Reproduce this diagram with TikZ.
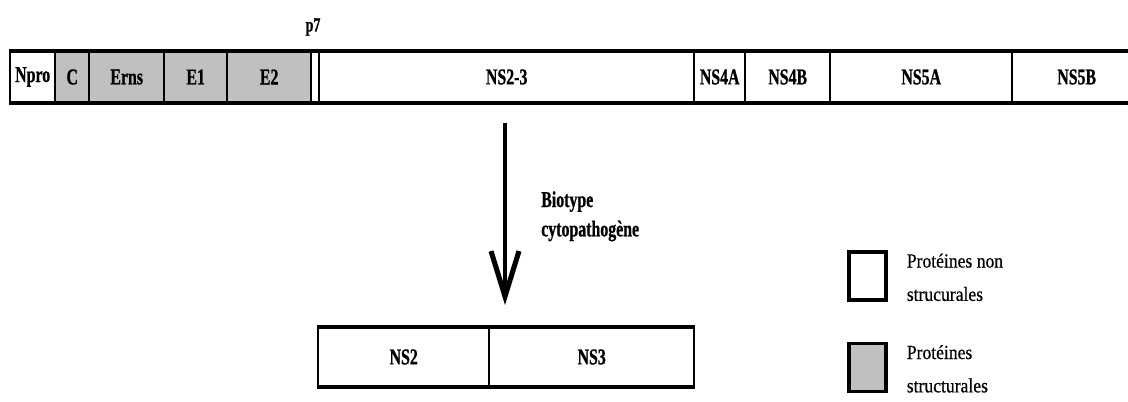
\documentclass[tikz,border=0pt]{standalone}
\usepackage{fontspec}
\setmainfont{Liberation Serif}
\newfontfamily\narrowbold[FakeStretch=0.7,FakeBold=0.8]{Liberation Serif}
\newfontfamily\narrowreg[FakeStretch=0.88,FakeBold=0.5]{Liberation Serif}
\usetikzlibrary{arrows.meta,positioning}
\definecolor{structgray}{RGB}{192,192,192}
\tikzset{
  seg/.style={draw, line width=1.8pt, minimum height=37.5pt, inner sep=0pt,
    font=\narrowbold\bfseries\fontsize{17}{17}\selectfont},
  bandline/.style={line width=3pt},
  keybox/.style={draw, line width=2.6pt, minimum width=28pt, minimum height=36pt, inner sep=0pt},
  keytext/.style={align=left, inner sep=0pt, anchor=west,
    font=\narrowreg\fontsize{15}{25}\selectfont},
  lbl/.style={inner sep=0pt, font=\narrowbold\bfseries\fontsize{17}{22}\selectfont},
}
\begin{document}
\begin{tikzpicture}[x=0.75pt, y=-0.75pt]
\useasboundingbox (0,0) rectangle (1128,401);

% polyprotein band
\foreach \a/\b/\t/\f/\n in {
    9/54/Npro/white/npro,
    54/88/C/structgray/c,
    88/163/Erns/structgray/erns,
    163/226/E1/structgray/eone,
    226/310/E2/structgray/etwo,
    310/318/{}/white/pseven,
    318/693/NS2-3/white/nsdt,
    693/744/NS4A/white/nsfa,
    744/829/NS4B/white/nsfb,
    829/1011/NS5A/white/nsva,
    1011/1140/NS5B/white/nsvb}
  \node[seg, fill=\f, anchor=west, minimum width={(\b-\a)*0.75pt}] (\n) at (\a,77) {\t};
\draw[bandline] (npro.north west) -- (nsvb.north east);
\draw[bandline] (npro.south west) -- (nsvb.south east);

\node[lbl, font=\narrowbold\bfseries\fontsize{15}{15}\selectfont] (p7) at (313,27) {p7};

% cleavage arrow
\coordinate (a1) at (505,123);
\coordinate (a2) at (505,305);
\draw[line width=3pt, -{Straight Barb[length=34pt,width=21pt,line width=3.8pt]}] (a1) -- (a2);
\node[lbl, align=left, anchor=north west] (bio) at (541,191) {Biotype\\cytopathogène};

% cleavage products
\node[seg, fill=white, anchor=west, minimum width=128.25pt, minimum height=43.5pt] (nsd) at (317,357) {NS2};
\node[seg, fill=white, anchor=west, minimum width=153.75pt, minimum height=43.5pt] (nst) at (488,357) {NS3};
\draw[bandline] (nsd.north west) -- (nst.north east);
\draw[bandline] (nsd.south west) -- (nst.south east);

% key
\node[keybox, fill=white] (kw) at (867.5,276) {};
\node[keybox, fill=structgray] (kg) at (867.5,367.5) {};
\node[keytext] (kwt) at ([xshift=14pt,yshift=-1pt]kw.east) {Protéines non\\strucurales};
\node[keytext] (kgt) at ([xshift=14pt,yshift=-1pt]kg.east) {Protéines\\structurales};
\end{tikzpicture}
\end{document}
